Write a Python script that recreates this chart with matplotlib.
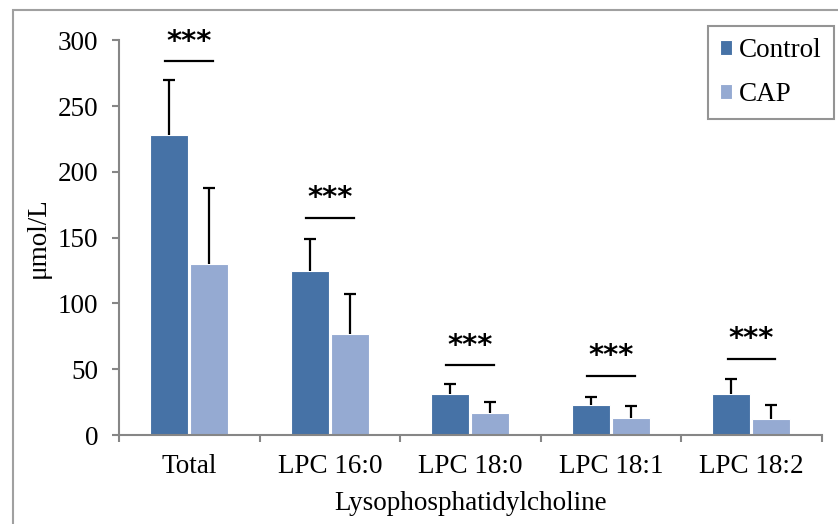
import matplotlib
matplotlib.use("Agg")
import matplotlib.pyplot as plt
import numpy as np
from matplotlib.patches import Rectangle

categories = ["Total", "LPC 16:0", "LPC 18:0", "LPC 18:1", "LPC 18:2"]
control_mean = [228, 125, 31, 22.6, 31.2]
control_sd = [42, 24, 7.6, 6.5, 11.4]
cap_mean = [130, 77, 16.5, 12.7, 12.2]
cap_sd = [58, 30, 8.6, 9.3, 10.4]
sig_line_y = [284, 165, 53, 45, 58]
sig_labels = ["***", "***", "***", "***", "***"]

plt.rcParams['font.family'] = ['Liberation Serif', 'DejaVu Serif']
FS = 19.5

fig = plt.figure(figsize=(8.38, 5.24), dpi=100)
ax = fig.add_axes([0.142, 0.1698, 0.8385, 0.7532])

x = np.arange(len(categories))
w = 0.27
off = 0.142
c1 = "#4672A6"
c2 = "#95AAD2"
ax.bar(x - off, control_mean, w, color=c1, edgecolor="white", linewidth=0.8, label="Control", zorder=2)
ax.bar(x + off, cap_mean, w, color=c2, edgecolor="white", linewidth=0.8, label="CAP", zorder=2)

capw = 0.043
for xs, m, sd in [(x - off, control_mean, control_sd), (x + off, cap_mean, cap_sd)]:
    tops = np.array(m) + np.array(sd)
    ax.vlines(xs, m, tops, color='black', lw=1.6, zorder=3)
    ax.hlines(tops, xs - capw, xs + capw, color='black', lw=1.6, zorder=3)

for xi, yl, lab in zip(x, sig_line_y, sig_labels):
    ax.plot([xi - 0.17, xi + 0.17], [yl, yl], color='black', lw=1.6, zorder=3)
    ax.text(xi, yl + 15, lab, ha='center', va='center', fontsize=21,
            family=['DejaVu Sans'], fontweight='semibold')

ax.set_xlim(-0.5, len(categories) - 0.5)
ax.set_ylim(0, 300)
ax.set_yticks([0, 50, 100, 150, 200, 250, 300])
ax.set_xticks(x)
ax.set_xticklabels(categories)
ax.set_xticks(np.arange(-0.5, len(categories), 1.0), minor=True)
ax.tick_params(axis='x', which='major', length=0, pad=14, labelsize=FS)
ax.tick_params(axis='x', which='minor', length=5, width=1.5, color='#868686', direction='out')
ax.tick_params(axis='y', length=5, width=1.5, color='#868686', labelsize=FS, pad=10)

for s in ['top', 'right']:
    ax.spines[s].set_visible(False)
for s in ['left', 'bottom']:
    ax.spines[s].set_color('#868686')
    ax.spines[s].set_linewidth(1.5)

ax.set_ylabel("μmol/L", fontsize=FS, labelpad=5)
ax.set_xlabel("Lysophosphatidylcholine", fontsize=FS, labelpad=8)

leg = ax.legend(loc='upper right', bbox_to_anchor=(1.025, 1.05), fontsize=FS, frameon=True,
                fancybox=False, edgecolor='#7a7a7a', handlelength=0.45, handleheight=0.45,
                handletextpad=0.25, labelspacing=0.7, borderpad=0.45, borderaxespad=0.2)
leg.get_frame().set_linewidth(1.5)

fig.patches.append(Rectangle((13/838, -0.1), 1.2, 1 - 10/524 + 0.1, transform=fig.transFigure,
                             fill=False, edgecolor='#a0a0a0', linewidth=1.5))

fig.savefig("out.png", dpi=100)
